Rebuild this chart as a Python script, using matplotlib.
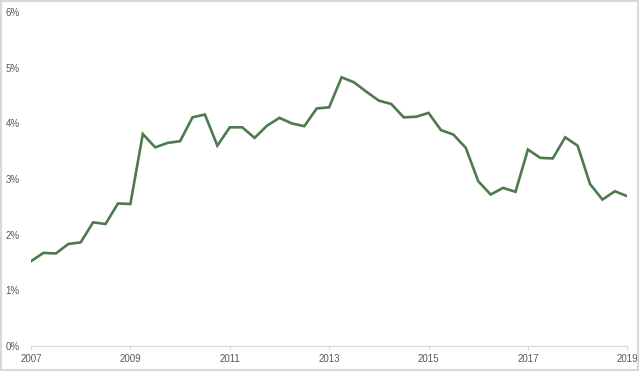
import numpy as np
import matplotlib
matplotlib.use("Agg")
import matplotlib.pyplot as plt
from matplotlib.ticker import FuncFormatter

# quarterly values (%), 2007Q1 .. 2019Q1
rate = [
    1.52, 1.67, 1.66, 1.83, 1.86, 2.22, 2.19, 2.56,
    2.55, 3.81, 3.57, 3.65, 3.68, 4.11, 4.16, 3.60,
    3.93, 3.93, 3.74, 3.96, 4.10, 4.00, 3.95, 4.27,
    4.29, 4.83, 4.74, 4.57, 4.41, 4.35, 4.11, 4.12,
    4.19, 3.88, 3.80, 3.56, 2.96, 2.72, 2.84, 2.77,
    3.53, 3.38, 3.37, 3.75, 3.60, 2.91, 2.63, 2.78,
    2.69,
]
years = ["2007", "2009", "2011", "2013", "2015", "2017", "2019"]
y_ticks = [0, 1, 2, 3, 4, 5, 6]

text_col = "#595959"
line_col = "#4f7a4f"

fig = plt.figure(figsize=(6.4, 3.71), dpi=100)
ax = fig.add_axes([31 / 640, 1 - 345.7 / 371, (627.3 - 31) / 640, (345.7 - 12.3) / 371])

x = np.arange(len(rate))
ax.plot(x, rate, color=line_col, linewidth=1.9, solid_joinstyle="miter")

ax.set_xlim(0, len(rate) - 1)
ax.set_ylim(0, 6)
ax.set_xticks(np.arange(0, len(rate), 8))
ax.set_xticklabels(years)
ax.set_yticks(y_ticks)
ax.yaxis.set_major_formatter(FuncFormatter(lambda v, p: f"{int(v)}%"))

for s in ["top", "right", "left"]:
    ax.spines[s].set_visible(False)
ax.spines["bottom"].set_color("#d9d9d9")
ax.spines["bottom"].set_linewidth(0.8)

ax.tick_params(axis="x", colors="#d9d9d9", length=3, width=0.8, direction="out",
               labelcolor=text_col, labelsize=7, pad=3)
ax.tick_params(axis="y", length=0, labelcolor=text_col, labelsize=7, pad=8)
for lbl in ax.get_xticklabels() + ax.get_yticklabels():
    lbl.set_fontfamily("Liberation Sans")

# light chart-area border
fig.patches.append(plt.Rectangle((0.002, 0.003), 0.995, 0.993, transform=fig.transFigure,
                                 fill=False, edgecolor="#d9d9d9", linewidth=1.5, zorder=0))

fig.savefig("out.png", dpi=100)
